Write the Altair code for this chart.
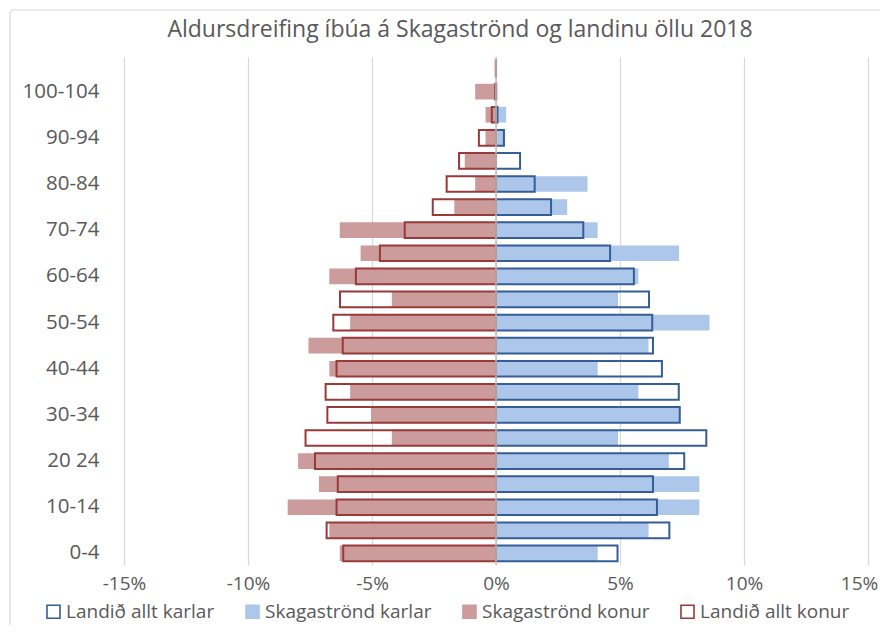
import altair as alt
import pandas as pd

ages = ["0-4", "5-9", "10-14", "15-19", "20 24", "25-29", "30-34", "35-39",
        "40-44", "45-49", "50-54\u00a0", "55-59", "60-64", "65-69", "70-74",
        "75-79", "80-84", "85-89", "90-94", "95-99", "100-104", "105+"]
shown_labels = ["0-4", "10-14", "20 24", "30-34", "40-44", "50-54\u00a0",
                "60-64", "70-74", "80-84", "90-94", "100-104"]

skag_karlar = [4.10, 6.15, 8.20, 8.20, 6.97, 4.92, 7.38, 5.74, 4.10, 6.15, 8.61,
               4.92, 5.74, 7.38, 4.10, 2.87, 3.69, 0.0, 0.36, 0.41, 0.0, 0.0]
skag_konur = [-6.30, -6.72, -8.40, -7.14, -7.98, -4.20, -5.04, -5.88, -6.72, -7.56,
              -5.88, -4.20, -6.72, -5.46, -6.30, -1.68, -0.84, -1.26, -0.42, -0.42,
              -0.84, 0.0]
land_karlar = [4.90, 6.99, 6.49, 6.33, 7.59, 8.48, 7.41, 7.37, 6.69, 6.33, 6.30,
               6.17, 5.56, 4.60, 3.52, 2.22, 1.56, 0.97, 0.32, 0.06, 0.01, 0.002]
land_konur = [-6.16, -6.83, -6.43, -6.38, -7.30, -7.68, -6.80, -6.87, -6.43, -6.18,
              -6.56, -6.29, -5.65, -4.68, -3.68, -2.55, -1.99, -1.49, -0.69, -0.17,
              -0.03, -0.01]

series = ["Landið allt karlar", "Skagaströnd karlar", "Skagaströnd konur", "Landið allt konur"]
fill_range = ["transparent", "#adc7ea", "#cc9b9b", "transparent"]
stroke_range = ["#345e95", "#adc7ea", "#cc9b9b", "#973a38"]
title_text = "Aldursdreifing íbúa á Skagaströnd og landinu öllu 2018"
x_ticks = [-15, -10, -5, 0, 5, 10, 15]

FONT = "Open Sans"
TXT = "#595959"

filled_df = pd.DataFrame(
    [{"age": a, "series": series[1], "value": v} for a, v in zip(ages, skag_karlar)]
    + [{"age": a, "series": series[2], "value": v} for a, v in zip(ages, skag_konur)]
)
outline_df = pd.DataFrame(
    [{"age": a, "series": series[0], "value": v} for a, v in zip(ages, land_karlar)]
    + [{"age": a, "series": series[3], "value": v} for a, v in zip(ages, land_konur)]
)

label_list = "[" + ",".join("'" + s + "'" for s in shown_labels) + "]"

x_enc = alt.X("value:Q",
              scale=alt.Scale(domain=[-15, 15], nice=False, zero=False),
              axis=alt.Axis(values=x_ticks, labelExpr="datum.value + '%'", title=None,
                            grid=True, gridColor="#d9d9d9", gridWidth=1.2,
                            domain=False, ticks=False, labelPadding=9,
                            labelFlush=False, labelOverlap=False,
                            labelOffset={"condition": {"test": "datum.value == 15", "value": -9}, "value": 0},
                            labelFont=FONT, labelFontSize=19, labelColor=TXT))
y_enc = alt.Y("age:N", sort=list(reversed(ages)),
              scale=alt.Scale(paddingInner=0.32, paddingOuter=0.16),
              axis=alt.Axis(title=None, labelExpr="indexof(" + label_list + ", datum.value) >= 0 ? datum.value : ''",
                            domain=False, ticks=False, grid=False, labelPadding=25,
                            labelFont=FONT, labelFontSize=20.5, labelColor=TXT))

legend_kw = dict(title=None, orient="none", legendX=-80, legendY=545,
                 direction="horizontal", columns=4, columnPadding=27,
                 symbolType="square", symbolSize=170, symbolStrokeWidth=1.6,
                 labelFont=FONT, labelFontSize=19, labelColor=TXT, labelOffset=3,
                 labelLimit=0)
fill_enc = alt.Fill("series:N", scale=alt.Scale(domain=series, range=fill_range),
                    legend=alt.Legend(**legend_kw))
stroke_enc = alt.Stroke("series:N", scale=alt.Scale(domain=series, range=stroke_range),
                        legend=alt.Legend(**legend_kw))

border = alt.Chart(pd.DataFrame({"a": [0]})).mark_rect(
    fillOpacity=0, stroke="#d9d9d9", strokeWidth=1.2, cornerRadius=4
).encode(x=alt.value(-114), x2=alt.value(800), y=alt.value(-47), y2=alt.value(600))

filled = alt.Chart(filled_df).mark_bar(strokeWidth=0).encode(
    x=x_enc, y=y_enc, fill=fill_enc, stroke=stroke_enc)

outline = alt.Chart(outline_df).mark_bar(strokeWidth=2).encode(
    x=x_enc, y=y_enc, fill=fill_enc, stroke=stroke_enc)

zero = alt.Chart(pd.DataFrame({"z": [0]})).mark_rule(color="#bfbfbf", strokeWidth=1.5).encode(
    x=alt.X("z:Q", scale=alt.Scale(domain=[-15, 15], nice=False)))

chart = alt.layer(border, filled, outline, zero).properties(
    width=744, height=508,
    title=alt.Title(title_text, font=FONT, fontSize=23, fontWeight="normal", color=TXT,
                    dx=-36, offset=-33, anchor="middle"),
    autosize=alt.AutoSizeParams(type="none"),
    padding={"left": 116, "top": 49, "right": 12, "bottom": 60},
).configure_view(stroke=None)

chart.save("out.html", embed_options={"renderer": "svg", "actions": False})
